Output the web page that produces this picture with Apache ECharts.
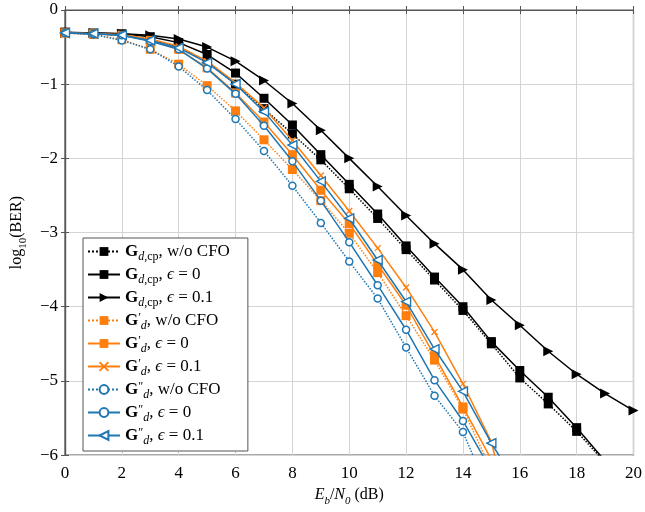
<!DOCTYPE html>
<html>
<head>
<meta charset="utf-8">
<script src="https://cdn.jsdelivr.net/npm/echarts@6/dist/echarts.min.js"></script>
<style>
  html, body { margin: 0; padding: 0; background: #fff; }
  #chart { width: 645px; height: 512px; }
</style>
</head>
<body>
<div id="chart"></div>
<script>
// Eb/N0 grid (dB)
const snr = [0, 1, 2, 3, 4, 5, 6, 7, 8, 9, 10, 11, 12, 13, 14, 15, 16, 17, 18, 19, 20];

// log10(BER) per scheme
const gdcpNoCfo = [-0.30, -0.32, -0.34, -0.40, -0.50, -0.70, -1.00, -1.33, -1.67, -2.02, -2.41, -2.81, -3.23, -3.64, -4.05, -4.50, -4.96, -5.31, -5.68, -6.10];
const gdcpEps0  = [-0.30, -0.31, -0.32, -0.36, -0.44, -0.60, -0.85, -1.19, -1.55, -1.95, -2.35, -2.75, -3.18, -3.60, -4.00, -4.47, -4.86, -5.22, -5.63, -6.08];
const gdcpEps01 = [-0.31, -0.31, -0.32, -0.34, -0.39, -0.50, -0.69, -0.95, -1.26, -1.62, -2.00, -2.38, -2.77, -3.15, -3.50, -3.91, -4.25, -4.60, -4.91, -5.17, -5.40];

const gpNoCfo   = [-0.31, -0.33, -0.40, -0.53, -0.73, -1.02, -1.36, -1.75, -2.15, -2.57, -3.01, -3.54, -4.12, -4.72, -5.38, -6.20];
const gpEps0    = [-0.31, -0.32, -0.34, -0.41, -0.53, -0.78, -1.12, -1.51, -1.95, -2.43, -2.88, -3.43, -3.98, -4.66, -5.35, -6.06];
const gpEps01   = [-0.31, -0.32, -0.33, -0.39, -0.49, -0.69, -0.98, -1.32, -1.76, -2.23, -2.71, -3.21, -3.74, -4.34, -5.04, -5.82, -7.40];

const gppNoCfo  = [-0.31, -0.33, -0.41, -0.53, -0.76, -1.08, -1.47, -1.90, -2.37, -2.87, -3.39, -3.89, -4.55, -5.20, -5.69, -6.58];
const gppEps0   = [-0.31, -0.32, -0.34, -0.42, -0.53, -0.79, -1.13, -1.56, -2.04, -2.57, -3.13, -3.71, -4.31, -4.99, -5.54, -6.21];
const gppEps01  = [-0.31, -0.32, -0.34, -0.41, -0.51, -0.71, -1.00, -1.37, -1.82, -2.31, -2.81, -3.37, -3.93, -4.57, -5.14, -5.84, -6.45];

const xTicks = [0, 2, 4, 6, 8, 10, 12, 14, 16, 18, 20];
const yTicks = [-6, -5, -4, -3, -2, -1, 0];

const BLACK = '#000000';
const ORANGE = '#ff7f0e';
const BLUE = '#1f77b4';
const SERIF = '"Liberation Serif", "DejaVu Serif", serif';
const CROSS = 'path://M0,0 L10,10 M10,0 L0,10';

function pairs(vals) {
  return vals.map((v, i) => [snr[i], v]);
}

const names = {
  a: '{g|G}{sub|d}{subr|,cp}{t|, w/o CFO}',
  b: '{g|G}{sub|d}{subr|,cp}{t|, }{e|ϵ}{t| = 0}',
  c: '{g|G}{sub|d}{subr|,cp}{t|, }{e|ϵ}{t| = 0.1}',
  d: '{g|G}{sup|′}{sub|d}{t|, w/o CFO}',
  e: '{g|G}{sup|′}{sub|d}{t|, }{e|ϵ}{t| = 0}',
  f: '{g|G}{sup|′}{sub|d}{t|, }{e|ϵ}{t| = 0.1}',
  g: '{g|G}{sup|″}{sub|d}{t|, w/o CFO}',
  h: '{g|G}{sup|″}{sub|d}{t|, }{e|ϵ}{t| = 0}',
  i: '{g|G}{sup|″}{sub|d}{t|, }{e|ϵ}{t| = 0.1}'
};

function mk(id, vals, color, lineType, symbol, size, opts) {
  opts = opts || {};
  return {
    name: id,
    type: 'line',
    data: pairs(vals),
    symbol: symbol,
    symbolSize: size,
    symbolRotate: opts.rotate || 0,
    showAllSymbol: true,
    clip: true,
    lineStyle: { color: color, width: 1.5, type: lineType },
    itemStyle: {
      color: opts.hollow ? '#ffffff' : color,
      borderColor: color,
      borderWidth: opts.border != null ? opts.border : 0
    },
    emphasis: { disabled: true },
    animation: false,
    z: opts.z || 2
  };
}

const series = [
  mk('a', gdcpNoCfo, BLACK, 'dotted', 'rect', 9),
  mk('b', gdcpEps0, BLACK, 'solid', 'rect', 9),
  mk('c', gdcpEps01, BLACK, 'solid', 'triangle', 10, { rotate: -90 }),
  mk('d', gpNoCfo, ORANGE, 'dotted', 'rect', 9, { z: 3 }),
  mk('e', gpEps0, ORANGE, 'solid', 'rect', 9, { z: 3 }),
  mk('f', gpEps01, ORANGE, 'solid', CROSS, 6, { border: 1.3, z: 3 }),
  mk('g', gppNoCfo, BLUE, 'dotted', 'circle', 7, { hollow: true, border: 1.5, z: 4 }),
  mk('h', gppEps0, BLUE, 'solid', 'circle', 7, { hollow: true, border: 1.5, z: 4 }),
  mk('i', gppEps01, BLUE, 'solid', 'triangle', 9, { rotate: 90, hollow: true, border: 1.4, z: 4 })
];

const chart = echarts.init(document.getElementById('chart'), null, { renderer: 'canvas' });

const axisCommon = {
  axisLine: { show: true, lineStyle: { color: '#555', width: 1.2 } },
  axisTick: { show: true, inside: true, length: 4, lineStyle: { color: '#555' } }
};

const LEG_FS = 17;

chart.setOption({
  animation: false,
  backgroundColor: '#ffffff',
  grid: { left: 65, right: 8, top: 10, bottom: 50, show: true, borderColor: '#555', borderWidth: 1.2 },
  legend: {
    orient: 'vertical',
    left: 83,
    top: 238,
    padding: [5, 18, 4, 4],
    itemGap: 3,
    itemWidth: 32,
    itemHeight: 11,
    backgroundColor: '#ffffff',
    borderColor: '#555',
    borderWidth: 1,
    borderRadius: 0,
    selectedMode: false,
    data: series.map(s => s.name),
    formatter: id => names[id],
    textStyle: {
      fontFamily: SERIF,
      fontSize: LEG_FS,
      color: '#000',
      padding: [0, 0, 0, 0],
      rich: {
        g: { fontFamily: SERIF, fontSize: LEG_FS, fontWeight: 'bold', lineHeight: 17 },
        t: { fontFamily: SERIF, fontSize: LEG_FS, lineHeight: 17 },
        e: { fontFamily: SERIF, fontSize: LEG_FS, fontStyle: 'italic', lineHeight: 17 },
        sub: { fontFamily: SERIF, fontSize: 12, fontStyle: 'italic', lineHeight: 12, verticalAlign: 'bottom', padding: [0, 0, -3, 0] },
        subr: { fontFamily: SERIF, fontSize: 12, lineHeight: 12, verticalAlign: 'bottom', padding: [0, 0, -3, 0] },
        sup: { fontFamily: SERIF, fontSize: 12, lineHeight: 12, verticalAlign: 'top' }
      }
    }
  },
  xAxis: [
    Object.assign({
      type: 'value', min: 0, max: 20, interval: 2,
      name: '{i|E}{sub|b}{t|/}{i|N}{sub|0}{t| (dB)}',
      nameLocation: 'middle', nameGap: 30,
      nameTextStyle: {
        fontFamily: SERIF, fontSize: 16, color: '#000',
        rich: {
          i: { fontFamily: SERIF, fontSize: 16, fontStyle: 'italic', lineHeight: 18 },
          t: { fontFamily: SERIF, fontSize: 16, lineHeight: 18 },
          sub: { fontFamily: SERIF, fontSize: 11, fontStyle: 'italic', lineHeight: 11, verticalAlign: 'bottom', padding: [0, 0, -3, 0] }
        }
      },
      axisLabel: { fontFamily: SERIF, fontSize: 17, color: '#000', margin: 10, showMaxLabel: true },
      splitLine: { show: true, lineStyle: { color: '#d4d4d4', width: 1 } }
    }, axisCommon),
    Object.assign({
      type: 'value', min: 0, max: 20, interval: 2, position: 'top',
      axisLabel: { show: false }, splitLine: { show: false }
    }, axisCommon)
  ],
  yAxis: [
    Object.assign({
      type: 'value', min: -6, max: 0, interval: 1,
      name: '{t|log}{sub|10}{t|(BER)}',
      nameLocation: 'middle', nameGap: 38,
      nameTextStyle: {
        fontFamily: SERIF, fontSize: 16, color: '#000',
        rich: {
          t: { fontFamily: SERIF, fontSize: 16, lineHeight: 18 },
          sub: { fontFamily: SERIF, fontSize: 11, lineHeight: 11, verticalAlign: 'bottom', padding: [0, 0, -3, 0] }
        }
      },
      axisLabel: {
        fontFamily: SERIF, fontSize: 17, color: '#000', margin: 7,
        formatter: v => (v < 0 ? '\u2212' + Math.abs(v) : String(v))
      },
      splitLine: { show: true, lineStyle: { color: '#d4d4d4', width: 1 } }
    }, axisCommon),
    Object.assign({
      type: 'value', min: -6, max: 0, interval: 1, position: 'right',
      axisLabel: { show: false }, splitLine: { show: false }
    }, axisCommon)
  ],
  series: series
});
</script>
</body>
</html>
